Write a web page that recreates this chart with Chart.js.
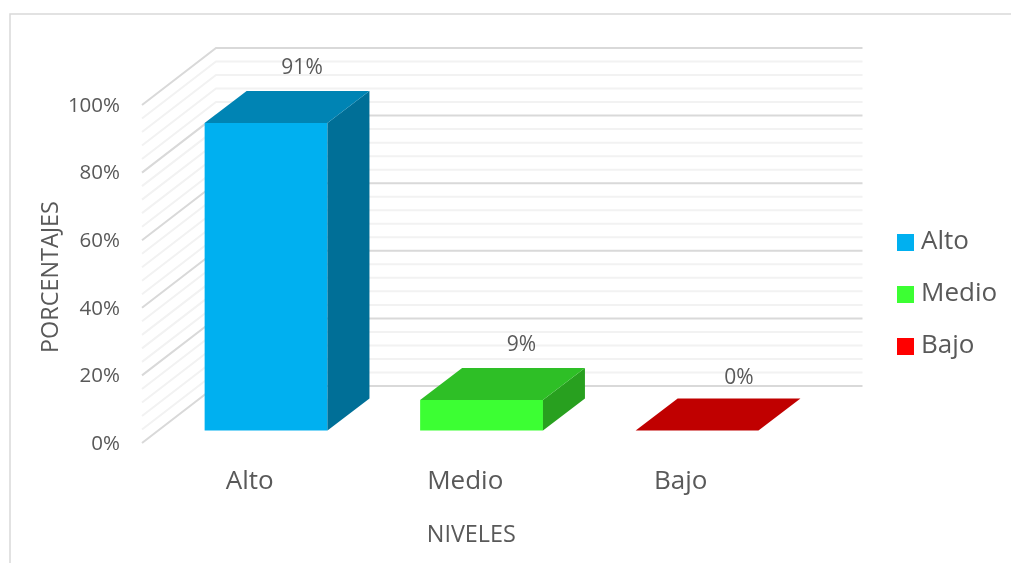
<!DOCTYPE html>
<html>
<head>
<meta charset="utf-8">
<title>Niveles</title>
<script src="https://cdn.jsdelivr.net/npm/chart.js@4"></script>
<style>
	body { margin: 0; background: #ffffff; }
	canvas { display: block; }
</style>
</head>
<body>
<canvas id="nivelesChart" width="1011" height="563"></canvas>
<script>
// Datos
var categories = ["Alto", "Medio", "Bajo"];
var percentages = [91, 9, 0];

// Colores de cada barra
var frontColors = ['#00B0F0', '#3CFF33', '#FF0000'];
var topColors = ['#0084B4', '#2EBF26', '#C00000'];
var sideColors = ['#006F97', '#28A01F', '#A00000'];

var textColor = '#595959';
var fontFamily = '"Open Sans", sans-serif';

// Profundidad de la caja 3D (pared completa y barra)
var wallDepth = { x: 74, y: -57 };
var barShift = { x: 16.3, y: -12.5 };
var barDepth = { x: 42, y: -32 };

// Ajuste fino de cada etiqueta de porcentaje
var labelNudgeX = [0, 4, 6];
var labelNudgeY = [1, 1, 4];

function polygon(ctx, points, color) {
	ctx.fillStyle = color;
	ctx.beginPath();
	ctx.moveTo(points[0][0], points[0][1]);
	for (var i = 1; i < points.length; i++) {
		ctx.lineTo(points[i][0], points[i][1]);
	}
	ctx.closePath();
	ctx.fill();
}

// Cuadro de la leyenda: el margen izquierdo deja el texto mas cerca del cuadro
function legendSwatch(color) {
	var swatch = document.createElement('canvas');
	swatch.width = 23;
	swatch.height = 17;
	var c = swatch.getContext('2d');
	c.fillStyle = color;
	c.fillRect(6, 0, 17, 17);
	return swatch;
}

// Marco exterior, solo arriba y a la izquierda
var framePlugin = {
	id: 'frame',
	beforeDraw: function(chart) {
		var ctx = chart.ctx;
		ctx.save();
		ctx.strokeStyle = '#D9D9D9';
		ctx.lineWidth = 1.5;
		ctx.beginPath();
		ctx.moveTo(10, 563);
		ctx.lineTo(10, 14);
		ctx.lineTo(1011, 14);
		ctx.stroke();
		ctx.restore();
	}
};

// Paredes, caras laterales y etiquetas
var box3dPlugin = {
	id: 'box3d',
	afterLayout: function(chart) {
		var legend = chart.legend;
		var w = legend.width, h = legend.height;
		legend.left = 871;
		legend.top = 203;
		legend.right = legend.left + w;
		legend.bottom = legend.top + h;
	},
	beforeDatasetsDraw: function(chart) {
		var ctx = chart.ctx;
		var y = chart.scales.y;
		var area = chart.chartArea;
		var drawLine = function(value, color, width) {
			var py = y.getPixelForValue(value);
			ctx.strokeStyle = color;
			ctx.lineWidth = width;
			ctx.beginPath();
			ctx.moveTo(area.left, py);
			ctx.lineTo(area.left + wallDepth.x, py + wallDepth.y);
			ctx.lineTo(area.right + wallDepth.x, py + wallDepth.y);
			ctx.stroke();
		};
		ctx.save();
		for (var v = 0; v <= 100; v += 4) {
			if (v % 20 !== 0) drawLine(v, '#F2F2F2', 2);
		}
		for (var m = 0; m <= 100; m += 20) {
			drawLine(m, '#D9D9D9', 2);
		}
		ctx.restore();

		// las barras van al centro de la caja
		ctx.save();
		ctx.translate(barShift.x, barShift.y);
	},
	afterDatasetsDraw: function(chart) {
		var ctx = chart.ctx;
		var bars = chart.getDatasetMeta(0).data;
		bars.forEach(function(bar, i) {
			var left = bar.x - bar.width / 2;
			var right = bar.x + bar.width / 2;
			polygon(ctx, [
				[right, bar.y], [right, bar.base],
				[right + barDepth.x, bar.base + barDepth.y],
				[right + barDepth.x, bar.y + barDepth.y]
			], sideColors[i]);
			polygon(ctx, [
				[left, bar.y], [right, bar.y],
				[right + barDepth.x, bar.y + barDepth.y],
				[left + barDepth.x, bar.y + barDepth.y]
			], topColors[i]);
		});
		ctx.restore();

		ctx.save();
		ctx.fillStyle = textColor;
		ctx.font = '21px ' + fontFamily;
		ctx.textAlign = 'center';
		ctx.textBaseline = 'middle';
		bars.forEach(function(bar, i) {
			ctx.fillText(
				percentages[i] + '%',
				bar.x + barShift.x + barDepth.x - 6 + labelNudgeX[i],
				bar.y + barShift.y + barDepth.y - 24 + labelNudgeY[i]
			);
		});
		ctx.restore();
	}
};

var nivelesSelector = document.getElementById('nivelesChart');
var nivelesChart = new Chart(nivelesSelector, {
	type: 'bar',
	data: {
		labels: categories,
		datasets: [{
			label: 'Niveles',
			data: percentages,
			backgroundColor: frontColors,
			borderWidth: 0,
			categoryPercentage: 1,
			barPercentage: 0.57,
			clip: false
		}]
	},
	plugins: [framePlugin, box3dPlugin],
	options: {
		responsive: false,
		animation: false,
		events: [],
		layout: {
			padding: { top: 105, right: 222.5, bottom: 0, left: 0 }
		},
		scales: {
			x: {
				grid: { display: false, drawTicks: false },
				border: { display: false },
				afterFit: function(scale) { scale.height = 120; },
				ticks: {
					color: textColor,
					font: { family: fontFamily, size: 26 },
					padding: 23,
					maxRotation: 0
				},
				title: {
					display: true,
					text: '  NIVELES',
					color: textColor,
					font: { family: fontFamily, size: 23.4 },
					padding: { top: 0, bottom: 14 }
				}
			},
			y: {
				min: 0,
				max: 100,
				grid: { display: false, drawTicks: false },
				border: { display: false },
				afterFit: function(scale) { scale.width = 142; },
				ticks: {
					stepSize: 20,
					color: textColor,
					font: { family: fontFamily, size: 20.5 },
					padding: 22,
					labelOffset: 1,
					callback: function(value) { return value + '%'; }
				},
				title: {
					display: true,
					text: 'PORCENTAJES ',
					color: textColor,
					font: { family: fontFamily, size: 23.4 },
					padding: { top: 37, bottom: 0 }
				}
			}
		},
		plugins: {
			tooltip: { enabled: false },
			legend: {
				position: 'chartArea',
				align: 'start',
				labels: {
					color: textColor,
					font: { family: fontFamily, size: 26 },
					usePointStyle: true,
					pointStyleWidth: 11,
					boxHeight: 17,
					padding: 26,
					generateLabels: function() {
						return categories.map(function(name, i) {
							return {
								text: name,
								fontColor: textColor,
								pointStyle: legendSwatch(frontColors[i]),
								lineWidth: 0,
								index: i
							};
						});
					}
				}
			}
		}
	}
});
</script>
</body>
</html>
